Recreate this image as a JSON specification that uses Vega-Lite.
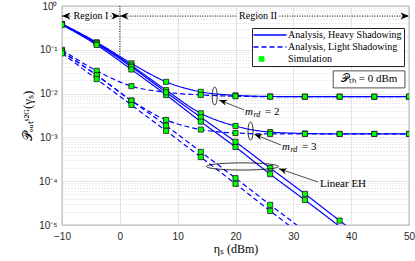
{
  "$schema": "https://vega.github.io/schema/vega-lite/v6.json",
  "width": 347,
  "height": 219,
  "autosize": {"type": "none"},
  "padding": {"left": 62, "top": 6, "right": 6, "bottom": 36},
  "config": {
    "view": {"stroke": "#262626", "strokeWidth": 0.8},
    "font": "Liberation Serif"
  },
  "datasets": {
    "curves": [
      {"x": -10, "y": 0.389, "c": "H2", "leg": "Analysis, Heavy Shadowing"},
      {"x": -4, "y": 0.148, "c": "H2", "leg": "Analysis, Heavy Shadowing"},
      {"x": 2, "y": 0.049, "c": "H2", "leg": "Analysis, Heavy Shadowing"},
      {"x": 8, "y": 0.0186, "c": "H2", "leg": "Analysis, Heavy Shadowing"},
      {"x": 14, "y": 0.01096, "c": "H2", "leg": "Analysis, Heavy Shadowing"},
      {"x": 20, "y": 0.00912, "c": "H2", "leg": "Analysis, Heavy Shadowing"},
      {"x": 26, "y": 0.00861, "c": "H2", "leg": "Analysis, Heavy Shadowing"},
      {"x": 32, "y": 0.00851, "c": "H2", "leg": "Analysis, Heavy Shadowing"},
      {"x": 38, "y": 0.00851, "c": "H2", "leg": "Analysis, Heavy Shadowing"},
      {"x": 44, "y": 0.00851, "c": "H2", "leg": "Analysis, Heavy Shadowing"},
      {"x": 50, "y": 0.00851, "c": "H2", "leg": "Analysis, Heavy Shadowing"},
      {"x": -10, "y": 0.385, "c": "H3", "leg": "Analysis, Heavy Shadowing"},
      {"x": -4, "y": 0.1445, "c": "H3", "leg": "Analysis, Heavy Shadowing"},
      {"x": 2, "y": 0.0437, "c": "H3", "leg": "Analysis, Heavy Shadowing"},
      {"x": 8, "y": 0.012, "c": "H3", "leg": "Analysis, Heavy Shadowing"},
      {"x": 14, "y": 0.00355, "c": "H3", "leg": "Analysis, Heavy Shadowing"},
      {"x": 20, "y": 0.00182, "c": "H3", "leg": "Analysis, Heavy Shadowing"},
      {"x": 26, "y": 0.00132, "c": "H3", "leg": "Analysis, Heavy Shadowing"},
      {"x": 32, "y": 0.00123, "c": "H3", "leg": "Analysis, Heavy Shadowing"},
      {"x": 38, "y": 0.0012, "c": "H3", "leg": "Analysis, Heavy Shadowing"},
      {"x": 44, "y": 0.0012, "c": "H3", "leg": "Analysis, Heavy Shadowing"},
      {"x": 50, "y": 0.0012, "c": "H3", "leg": "Analysis, Heavy Shadowing"},
      {"x": -10, "y": 0.385, "c": "HLa", "leg": "Analysis, Heavy Shadowing"},
      {"x": -4, "y": 0.138, "c": "HLa", "leg": "Analysis, Heavy Shadowing"},
      {"x": 2, "y": 0.0407, "c": "HLa", "leg": "Analysis, Heavy Shadowing"},
      {"x": 8, "y": 0.0107, "c": "HLa", "leg": "Analysis, Heavy Shadowing"},
      {"x": 14, "y": 0.00288, "c": "HLa", "leg": "Analysis, Heavy Shadowing"},
      {"x": 20, "y": 0.000794, "c": "HLa", "leg": "Analysis, Heavy Shadowing"},
      {"x": 26, "y": 0.0002, "c": "HLa", "leg": "Analysis, Heavy Shadowing"},
      {"x": 32, "y": 0.0000513, "c": "HLa", "leg": "Analysis, Heavy Shadowing"},
      {"x": 38, "y": 0.0000126, "c": "HLa", "leg": "Analysis, Heavy Shadowing"},
      {"x": 44, "y": 0.00000316, "c": "HLa", "leg": "Analysis, Heavy Shadowing"},
      {"x": -10, "y": 0.372, "c": "HLb", "leg": "Analysis, Heavy Shadowing"},
      {"x": -4, "y": 0.129, "c": "HLb", "leg": "Analysis, Heavy Shadowing"},
      {"x": 2, "y": 0.0355, "c": "HLb", "leg": "Analysis, Heavy Shadowing"},
      {"x": 8, "y": 0.00933, "c": "HLb", "leg": "Analysis, Heavy Shadowing"},
      {"x": 14, "y": 0.00229, "c": "HLb", "leg": "Analysis, Heavy Shadowing"},
      {"x": 20, "y": 0.000603, "c": "HLb", "leg": "Analysis, Heavy Shadowing"},
      {"x": 26, "y": 0.0001445, "c": "HLb", "leg": "Analysis, Heavy Shadowing"},
      {"x": 32, "y": 0.0000372, "c": "HLb", "leg": "Analysis, Heavy Shadowing"},
      {"x": 38, "y": 0.00000933, "c": "HLb", "leg": "Analysis, Heavy Shadowing"},
      {"x": 44, "y": 0.00000234, "c": "HLb", "leg": "Analysis, Heavy Shadowing"},
      {"x": -10, "y": 0.1, "c": "L2", "leg": "Analysis, Light Shadowing"},
      {"x": -4, "y": 0.0331, "c": "L2", "leg": "Analysis, Light Shadowing"},
      {"x": 2, "y": 0.0148, "c": "L2", "leg": "Analysis, Light Shadowing"},
      {"x": 8, "y": 0.0107, "c": "L2", "leg": "Analysis, Light Shadowing"},
      {"x": 14, "y": 0.00933, "c": "L2", "leg": "Analysis, Light Shadowing"},
      {"x": 20, "y": 0.00871, "c": "L2", "leg": "Analysis, Light Shadowing"},
      {"x": 26, "y": 0.00851, "c": "L2", "leg": "Analysis, Light Shadowing"},
      {"x": 32, "y": 0.00851, "c": "L2", "leg": "Analysis, Light Shadowing"},
      {"x": 38, "y": 0.00851, "c": "L2", "leg": "Analysis, Light Shadowing"},
      {"x": 44, "y": 0.00851, "c": "L2", "leg": "Analysis, Light Shadowing"},
      {"x": 50, "y": 0.00851, "c": "L2", "leg": "Analysis, Light Shadowing"},
      {"x": -10, "y": 0.0912, "c": "L3", "leg": "Analysis, Light Shadowing"},
      {"x": -4, "y": 0.0263, "c": "L3", "leg": "Analysis, Light Shadowing"},
      {"x": 2, "y": 0.00692, "c": "L3", "leg": "Analysis, Light Shadowing"},
      {"x": 8, "y": 0.00251, "c": "L3", "leg": "Analysis, Light Shadowing"},
      {"x": 14, "y": 0.00151, "c": "L3", "leg": "Analysis, Light Shadowing"},
      {"x": 20, "y": 0.00126, "c": "L3", "leg": "Analysis, Light Shadowing"},
      {"x": 26, "y": 0.0012, "c": "L3", "leg": "Analysis, Light Shadowing"},
      {"x": 32, "y": 0.0012, "c": "L3", "leg": "Analysis, Light Shadowing"},
      {"x": 38, "y": 0.0012, "c": "L3", "leg": "Analysis, Light Shadowing"},
      {"x": 44, "y": 0.0012, "c": "L3", "leg": "Analysis, Light Shadowing"},
      {"x": 50, "y": 0.0012, "c": "L3", "leg": "Analysis, Light Shadowing"},
      {"x": -10, "y": 0.0912, "c": "LLa", "leg": "Analysis, Light Shadowing"},
      {"x": -4, "y": 0.0263, "c": "LLa", "leg": "Analysis, Light Shadowing"},
      {"x": 2, "y": 0.00692, "c": "LLa", "leg": "Analysis, Light Shadowing"},
      {"x": 8, "y": 0.00186, "c": "LLa", "leg": "Analysis, Light Shadowing"},
      {"x": 14, "y": 0.000468, "c": "LLa", "leg": "Analysis, Light Shadowing"},
      {"x": 20, "y": 0.0001175, "c": "LLa", "leg": "Analysis, Light Shadowing"},
      {"x": 26, "y": 0.0000288, "c": "LLa", "leg": "Analysis, Light Shadowing"},
      {"x": 32, "y": 0.00000724, "c": "LLa", "leg": "Analysis, Light Shadowing"},
      {"x": -10, "y": 0.0832, "c": "LLb", "leg": "Analysis, Light Shadowing"},
      {"x": -4, "y": 0.0214, "c": "LLb", "leg": "Analysis, Light Shadowing"},
      {"x": 2, "y": 0.0055, "c": "LLb", "leg": "Analysis, Light Shadowing"},
      {"x": 8, "y": 0.00141, "c": "LLb", "leg": "Analysis, Light Shadowing"},
      {"x": 14, "y": 0.000355, "c": "LLb", "leg": "Analysis, Light Shadowing"},
      {"x": 20, "y": 0.0000871, "c": "LLb", "leg": "Analysis, Light Shadowing"},
      {"x": 26, "y": 0.0000209, "c": "LLb", "leg": "Analysis, Light Shadowing"},
      {"x": 32, "y": 0.00000525, "c": "LLb", "leg": "Analysis, Light Shadowing"}
    ],
    "annot": [
      {"t": "seg", "x": -10, "x2": -8.4, "y": 0.59},
      {"t": "seg", "x": -1.6, "x2": 0, "y": 0.59},
      {"t": "seg", "x": 0, "x2": 20.2, "y": 0.59},
      {"t": "seg", "x": 27.6, "x2": 50, "y": 0.59},
      {"t": "vseg", "x": 0, "y": 1, "y2": 0.075},
      {"t": "rarr", "x": -10, "y": 0.59, "dir": "L"},
      {"t": "rarr", "x": 0, "y": 0.59, "dir": "R"},
      {"t": "rarr", "x": 0, "y": 0.59, "dir": "L"},
      {"t": "rarr", "x": 50, "y": 0.59, "dir": "R"},
      {"t": "rtext", "x": -5, "y": 0.59, "label": "Region I"},
      {"t": "rtext", "x": 23.9, "y": 0.59, "label": "Region II"},
      {"t": "box", "x": 36.9, "x2": 49.3, "y": 0.033, "y2": 0.0135},
      {"t": "btext", "x": 43.1, "y": 0.0211, "label": "𝒫ₜₕ = 0 dBm"},
      {"t": "ev", "x": 16.4, "y": 0.0088},
      {"t": "ev", "x": 22.6, "y": 0.0014},
      {"t": "eh", "x": 21.2, "y": 0.000217},
      {"t": "aline", "x": 21.5, "y": 0.00423, "x2": 17.15, "y2": 0.00714},
      {"t": "aline", "x": 27.87, "y": 0.00067, "x2": 23.25, "y2": 0.001175},
      {"t": "aline", "x": 34.27, "y": 0.000096, "x2": 27.52, "y2": 0.000193},
      {"t": "ahead", "x": 17.15, "y": 0.00714},
      {"t": "ahead", "x": 23.25, "y": 0.001175},
      {"t": "ahead", "x": 27.52, "y": 0.000193},
      {"t": "mtext", "x": 21.64, "y": 0.0038, "eq": "= 2"},
      {"t": "mtext", "x": 28.04, "y": 0.0006, "eq": "= 3"},
      {"t": "ltext", "x": 34.6, "y": 0.000086, "label": "Linear EH"}
    ]
  },
  "encoding": {
    "x": {"field": "x", "type": "quantitative", "scale": {"domain": [-10, 50], "nice": false, "zero": false},
      "axis": {"values": [-10, 0, 10, 20, 30, 40, 50], "grid": true, "gridColor": "#dedede", "gridWidth": 0.8, "ticks": false, "domain": false,
        "labelFlush": false, "labelOverlap": false,
        "labelFont": "Liberation Sans", "labelFontSize": 10, "labelColor": "#262626", "labelPadding": 6,
        "title": "ηₛ (dBm)", "titleFont": "Liberation Serif", "titleFontSize": 12, "titleFontWeight": "normal", "titleColor": "#000000", "titlePadding": 2}},
    "y": {"field": "y", "type": "quantitative", "scale": {"type": "log", "domain": [0.00001, 1], "nice": false}, "axis": null}
  },
  "resolve": {"axis": {"y": "independent"}},
  "layer": [
    {
      "data": {"name": "curves"},
      "mark": {"type": "line", "interpolate": "monotone", "strokeWidth": 1.2, "clip": true},
      "encoding": {
        "y": {"field": "y", "type": "quantitative", "scale": {"type": "log", "domain": [0.00001, 1], "nice": false},
          "axis": {"values": [0.00001, 0.0001, 0.001, 0.01, 0.1, 1], "grid": true, "gridColor": "#dedede", "gridWidth": 0.8, "ticks": false, "domain": false,
            "labelFlush": false, "labelOverlap": false,
            "labelExpr": "'10' + (datum.value >= 1 ? '⁰' : '⁻' + ['⁰','¹','²','³','⁴','⁵'][round(-log(datum.value)/LN10)])",
            "labelFont": "Liberation Sans", "labelFontSize": 10, "labelColor": "#262626", "labelPadding": 5,
            "title": "𝒫ₒᵤₜˢ²ᴳ(γₛ)", "titleFont": "Liberation Serif", "titleFontSize": 13, "titleFontWeight": "normal", "titleColor": "#000000",
            "titleX": -35, "titleBaseline": "middle", "titleAngle": -90}},
        "detail": {"field": "c"},
        "color": {"field": "leg", "type": "nominal",
          "scale": {"domain": ["Analysis, Heavy Shadowing", "Analysis, Light Shadowing", "Simulation"], "range": ["#0000ff", "#0000ff", "#00ff00"]},
          "legend": {"orient": "none", "legendX": 190, "legendY": 22, "title": null, "symbolSize": 121, "symbolType": "M-1,0H5",
            "labelOffset": 24, "padding": 2, "rowPadding": 2, "strokeColor": "#262626", "fillColor": "#ffffff",
            "labelFont": "Liberation Serif", "labelFontSize": 10, "labelColor": "#000000", "symbolStrokeWidth": 1.3,
            "encode": {"symbols": {"update": {
              "shape": {"signal": "datum.value === 'Simulation' ? 'M0,-0.45H0.9V0.45H0Z' : 'M-1,0H5'"},
              "fill": {"signal": "datum.value === 'Simulation' ? '#00ff00' : 'transparent'"},
              "stroke": {"signal": "datum.value === 'Simulation' ? '#1a1a1a' : '#0000ff'"},
              "strokeWidth": {"signal": "datum.value === 'Simulation' ? 0.8 : 1.3"},
              "strokeDash": {"signal": "datum.value === 'Analysis, Light Shadowing' ? [5,3] : [1,0]"},
              "opacity": {"value": 1}
            }}}}},
        "strokeDash": {"field": "leg", "type": "nominal",
          "scale": {"domain": ["Analysis, Heavy Shadowing", "Analysis, Light Shadowing"], "range": [[1, 0], [5, 3]]}, "legend": null}
      }
    },
    {
      "data": {"name": "curves"},
      "transform": [{"filter": "datum.y >= 0.00001"}],
      "mark": {"type": "point", "shape": "square", "filled": true, "fill": "#00ff00", "stroke": "#1a1a1a", "strokeWidth": 0.8, "size": 26, "opacity": 1, "clip": true},
      "encoding": {
        "y": {"field": "y", "type": "quantitative", "scale": {"type": "log", "domain": [0.00001, 1], "nice": false},
          "axis": {"orient": "left", "values": [0.00002, 0.00003, 0.00004, 0.00005, 0.00006, 0.00007, 0.00008, 0.00009, 0.0002, 0.0003, 0.0004, 0.0005, 0.0006, 0.0007, 0.0008, 0.0009, 0.002, 0.003, 0.004, 0.005, 0.006, 0.007, 0.008, 0.009, 0.02, 0.03, 0.04, 0.05, 0.06, 0.07, 0.08, 0.09, 0.2, 0.3, 0.4, 0.5, 0.6, 0.7, 0.8, 0.9],
            "grid": true, "gridDash": [1, 2], "gridColor": "#c8c8c8", "gridWidth": 0.7, "labels": false, "ticks": false, "domain": false, "title": null}}
      }
    },
    {
      "data": {"name": "annot"},
      "transform": [{"filter": "datum.t === 'seg'"}],
      "mark": {"type": "rule", "color": "#000000", "strokeWidth": 1, "strokeDash": [1, 1.5]},
      "encoding": {"x2": {"field": "x2"}}
    },
    {
      "data": {"name": "annot"},
      "transform": [{"filter": "datum.t === 'vseg'"}],
      "mark": {"type": "rule", "color": "#000000", "strokeWidth": 1, "strokeDash": [1, 1.5]},
      "encoding": {"y2": {"field": "y2"}}
    },
    {
      "data": {"name": "annot"},
      "transform": [{"filter": "datum.t === 'rarr'"}],
      "mark": {"type": "point", "filled": true, "color": "#000000", "size": 289, "opacity": 1},
      "encoding": {"shape": {"field": "dir", "type": "nominal", "scale": {"domain": ["L", "R"], "range": ["M0,0L1,-0.42L0.72,0L1,0.42Z", "M0,0L-1,-0.42L-0.72,0L-1,0.42Z"]}, "legend": null}}
    },
    {
      "data": {"name": "annot"},
      "transform": [{"filter": "datum.t === 'rtext'"}],
      "mark": {"type": "text", "font": "Liberation Serif", "fontSize": 10, "color": "#000000", "align": "center", "baseline": "middle"},
      "encoding": {"text": {"field": "label"}}
    },
    {
      "data": {"name": "annot"},
      "transform": [{"filter": "datum.t === 'box'"}],
      "mark": {"type": "rect", "fill": "#ffffff", "stroke": "#262626", "strokeWidth": 0.8},
      "encoding": {"x2": {"field": "x2"}, "y2": {"field": "y2"}}
    },
    {
      "data": {"name": "annot"},
      "transform": [{"filter": "datum.t === 'btext'"}],
      "mark": {"type": "text", "font": "Liberation Serif", "fontSize": 11, "color": "#000000", "align": "center", "baseline": "middle"},
      "encoding": {"text": {"field": "label"}}
    },
    {
      "data": {"name": "annot"},
      "transform": [{"filter": "datum.t === 'ev'"}],
      "mark": {"type": "point", "shape": "M0,-1A0.28,1 0 1,1 0,1A0.28,1 0 1,1 0,-1Z", "size": 324, "filled": false, "stroke": "#000000", "strokeWidth": 0.8, "opacity": 1}
    },
    {
      "data": {"name": "annot"},
      "transform": [{"filter": "datum.t === 'eh'"}],
      "mark": {"type": "point", "shape": "M-1,0A1,0.1 0 1,1 1,0A1,0.1 0 1,1 -1,0Z", "size": 5184, "filled": false, "stroke": "#000000", "strokeWidth": 0.8, "opacity": 1}
    },
    {
      "data": {"name": "annot"},
      "transform": [{"filter": "datum.t === 'aline'"}],
      "mark": {"type": "rule", "color": "#000000", "strokeWidth": 0.7},
      "encoding": {"x2": {"field": "x2"}, "y2": {"field": "y2"}}
    },
    {
      "data": {"name": "annot"},
      "transform": [{"filter": "datum.t === 'ahead'"}],
      "mark": {"type": "point", "shape": "M0,0L1,-0.38L0.7,0L1,0.38Z", "size": 256, "angle": 20, "filled": true, "color": "#000000", "opacity": 1}
    },
    {
      "data": {"name": "annot"},
      "transform": [{"filter": "datum.t === 'mtext'"}],
      "mark": {"type": "text", "font": "Liberation Serif", "fontStyle": "italic", "fontSize": 11, "color": "#000000", "align": "left", "baseline": "middle"},
      "encoding": {"text": {"value": "m"}}
    },
    {
      "data": {"name": "annot"},
      "transform": [{"filter": "datum.t === 'mtext'"}],
      "mark": {"type": "text", "font": "Liberation Serif", "fontStyle": "italic", "fontSize": 8, "color": "#000000", "align": "left", "baseline": "middle", "dx": 8.5, "dy": 3},
      "encoding": {"text": {"value": "rd"}}
    },
    {
      "data": {"name": "annot"},
      "transform": [{"filter": "datum.t === 'mtext'"}],
      "mark": {"type": "text", "font": "Liberation Serif", "fontSize": 11, "color": "#000000", "align": "left", "baseline": "middle", "dx": 20},
      "encoding": {"text": {"field": "eq"}}
    },
    {
      "data": {"name": "annot"},
      "transform": [{"filter": "datum.t === 'ltext'"}],
      "mark": {"type": "text", "font": "Liberation Serif", "fontSize": 11, "color": "#000000", "align": "left", "baseline": "middle"},
      "encoding": {"text": {"field": "label"}}
    }
  ]
}
